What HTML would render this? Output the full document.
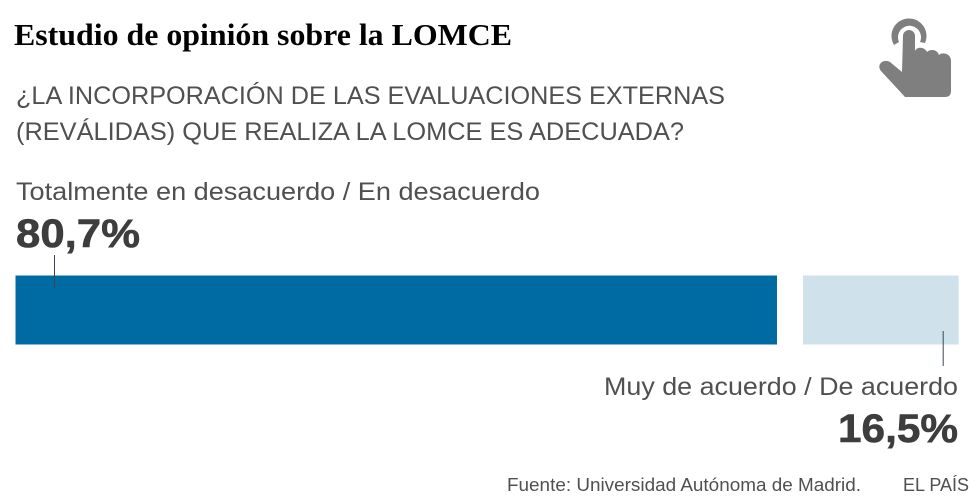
<!DOCTYPE html>
<html lang="es">
<head>
<meta charset="utf-8">
<title>Estudio de opinión sobre la LOMCE</title>
<style>
html,body{margin:0;padding:0;background:#fff;width:980px;height:501px;overflow:hidden}
svg{display:block}
text{font-family:"Liberation Sans",sans-serif;fill:#505050}
</style>
</head>
<body>
<svg id="chart" width="980" height="501" viewBox="0 0 980 501" xmlns="http://www.w3.org/2000/svg">
  <text x="14" y="45" font-size="31" font-weight="bold" textLength="498" lengthAdjust="spacingAndGlyphs" style="font-family:'Liberation Serif',serif;fill:#000">Estudio de opinión sobre la LOMCE</text>
  <g fill="#7f7f7f">
    <path d="M894 45 A17.5 17.5 0 1 1 925 43 L920 42 A11.5 11.5 0 1 0 899 42 Z"/>
    <path d="M903 36 A6 6 0 0 1 915 36 V51 C917 46 925 47 927 52 C930 49 937 49 939 55 C942 52 950 53 951 60 V91 Q951 97 945 97 H905 L881 71 C876 65 883 58 890 62 L902 72 Z"/>
  </g>
  <text x="16" y="104" font-size="25" textLength="709" lengthAdjust="spacingAndGlyphs">¿LA INCORPORACIÓN DE LAS EVALUACIONES EXTERNAS</text>
  <text x="16" y="140" font-size="25" textLength="668" lengthAdjust="spacingAndGlyphs">(REVÁLIDAS) QUE REALIZA LA LOMCE ES ADECUADA?</text>
  <text id="label-a" x="16" y="200" font-size="25" textLength="524" lengthAdjust="spacingAndGlyphs"></text>
  <text id="value-a" x="16" y="247" font-size="40" font-weight="bold" textLength="124" lengthAdjust="spacingAndGlyphs" stroke="#3d3d3d" stroke-width="0.6" style="fill:#3d3d3d"></text>
  <g id="bars"></g>
  <text id="label-b" x="958" y="395" font-size="25" text-anchor="end" textLength="354" lengthAdjust="spacingAndGlyphs"></text>
  <text id="value-b" x="958" y="442" font-size="40" font-weight="bold" text-anchor="end" textLength="120" lengthAdjust="spacingAndGlyphs" stroke="#3d3d3d" stroke-width="0.6" style="fill:#3d3d3d"></text>
  <text x="507" y="491" font-size="18" textLength="354" lengthAdjust="spacingAndGlyphs">Fuente: Universidad Autónoma de Madrid.</text>
  <text x="903" y="491" font-size="18" textLength="66" lengthAdjust="spacingAndGlyphs">EL PAÍS</text>
</svg>
<script>
const categories = ["Totalmente en desacuerdo / En desacuerdo", "Muy de acuerdo / De acuerdo"];
const values = [80.7, 16.5];

const NS = "http://www.w3.org/2000/svg";
const barsGroup = document.getElementById("bars");
const colors = ["#006ba3", "#cfe1eb"];
const x0 = 15.5, unit = 9.436, gap = 26, barTop = 275.5, barH = 69;
const w = v => v * unit;
const fmt = v => v.toFixed(1).replace(".", ",") + "%";

document.getElementById("label-a").textContent = categories[0];
document.getElementById("label-b").textContent = categories[1];
document.getElementById("value-a").textContent = fmt(values[0]);
document.getElementById("value-b").textContent = fmt(values[1]);

let cursor = x0;
values.forEach((v, i) => {
  const r = document.createElementNS(NS, "rect");
  
  
  r.setAttribute("x", cursor);
  r.setAttribute("y", barTop);
  r.setAttribute("width", w(v));
  r.setAttribute("height", barH);
  r.setAttribute("fill", colors[i]);
  barsGroup.appendChild(r);

  const l = document.createElementNS(NS, "line");
  
  
  const lx = i === 0 ? cursor + 39 : cursor + w(v) - 15.5;
  l.setAttribute("x1", lx);
  l.setAttribute("x2", lx);
  l.setAttribute("y1", i === 0 ? 255 : 331);
  l.setAttribute("y2", i === 0 ? 288 : 366);
  l.setAttribute("stroke", "#3a4650");
  l.setAttribute("stroke-width", "1");
  barsGroup.appendChild(l);

  cursor += w(v) + gap;
});
</script>
</body>
</html>
